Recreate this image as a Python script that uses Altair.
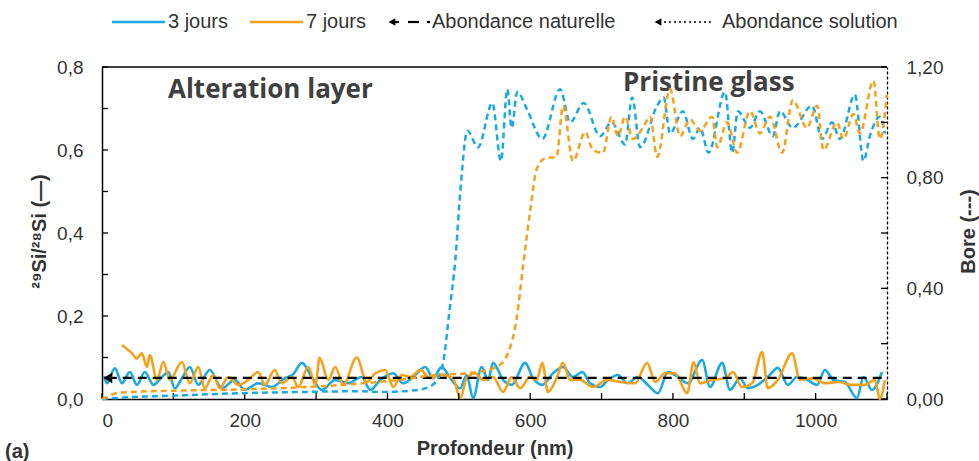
import altair as alt
import pandas as pd

# ---------------- data ----------------
# 29Si/28Si (left axis), 3 jours
si3_x = [3, 7, 18, 28, 39, 49, 60, 72, 84, 93,
         102, 112, 123, 135, 151, 168, 186, 200, 219, 238,
         256, 268, 280, 294, 308, 327, 345, 364, 376, 390,
         408, 422, 436, 453, 464, 476, 488, 502, 511, 520,
         532, 541, 548, 562, 574, 593, 604, 617, 632, 646,
         660, 673, 684, 698, 709, 723, 736, 751, 765, 779,
         793, 807, 821, 841, 852, 869, 880, 894, 905, 919,
         933, 947, 961, 974, 988, 1002, 1013, 1025, 1041, 1058,
         1067, 1079, 1093]
si3_y = [0.055, 0.038, 0.074, 0.038, 0.065, 0.034, 0.065, 0.034, 0.053, 0.065,
         0.026, 0.05, 0.077, 0.034, 0.07, 0.026, 0.046, 0.022, 0.038, 0.029,
         0.05, 0.06, 0.087, 0.053, 0.022, 0.046, 0.038, 0.053, 0.022, 0.046,
         0.062, 0.038, 0.053, 0.077, 0.05, 0.077, 0.05, 0.026, 0.058, 0.002,
         0.077, 0.046, 0.087, 0.046, 0.034, 0.087, 0.05, 0.034, 0.062, 0.077,
         0.053, 0.065, 0.038, 0.029, 0.046, 0.058, 0.038, 0.053, 0.034, 0.014,
         0.065, 0.053, 0.038, 0.094, 0.029, 0.087, 0.022, 0.05, 0.026, 0.034,
         0.053, 0.075, 0.034, 0.053, 0.046, 0.034, 0.07, 0.046, 0.041, 0.002,
         0.053, 0.022, 0.065]

# 29Si/28Si (left axis), 7 jours
si7_x = [28, 42, 49, 56, 63, 67, 77, 86, 95, 112,
         123, 135, 144, 156, 165, 177, 191, 205, 219, 228,
         242, 252, 266, 275, 289, 299, 305, 317, 327, 338,
         357, 371, 383, 397, 408, 420, 432, 446, 460, 476,
         492, 502, 511, 523, 534, 548, 562, 574, 586, 600,
         609, 617, 625, 637, 646, 656, 670, 688, 708, 726,
         747, 764, 775, 789, 803, 820, 829, 838, 855, 873,
         884, 897, 911, 925, 933, 947, 967, 978, 995, 1013,
         1032, 1051, 1069, 1083, 1090, 1097]
si7_y = [0.13, 0.11, 0.098, 0.11, 0.077, 0.106, 0.046, 0.089, 0.046, 0.089,
         0.038, 0.077, 0.026, 0.058, 0.026, 0.053, 0.034, 0.046, 0.065, 0.034,
         0.07, 0.038, 0.053, 0.029, 0.077, 0.034, 0.099, 0.046, 0.077, 0.034,
         0.1, 0.041, 0.062, 0.07, 0.029, 0.058, 0.053, 0.07, 0.05, 0.058,
         0.05, 0.002, 0.05, 0.062, 0.046, 0.053, 0.017, 0.053, 0.026, 0.053,
         0.046, 0.087, 0.017, 0.05, 0.087, 0.046, 0.046, 0.029, 0.046, 0.041,
         0.038, 0.087, 0.041, 0.062, 0.062, 0.014, 0.089, 0.038, 0.046, 0.05,
         0.065, 0.029, 0.038, 0.113, 0.026, 0.046, 0.11, 0.046, 0.05, 0.038,
         0.041, 0.034, 0.034, 0.046, 0.0, 0.046]

# Bore (right axis), 3 jours
b3_x = [0, 50, 100, 180, 270, 365, 390, 432, 455, 470,
        478, 487, 495, 503, 512, 527, 547, 559, 568, 574,
        582, 595, 617, 642, 656, 675, 698, 714, 733, 743,
        754, 778, 787, 796, 814, 828, 838, 850, 873, 883,
        891, 908, 922, 940, 950, 968, 995, 1009, 1023, 1034,
        1055, 1067, 1076, 1090, 1097]
b3_y = [0.0, 0.008, 0.012, 0.02, 0.025, 0.028, 0.025, 0.03, 0.04, 0.07,
        0.13, 0.32, 0.5, 0.78, 0.97, 0.91, 1.07, 0.86, 1.12, 0.98,
        1.11, 1.05, 0.94, 1.12, 1.0, 1.07, 0.95, 1.0, 0.92, 1.09,
        0.91, 1.06, 1.09, 0.96, 1.04, 0.94, 0.98, 0.89, 1.11, 0.89,
        1.04, 0.98, 1.04, 0.95, 1.04, 0.98, 1.06, 0.94, 1.0, 0.94,
        1.10, 0.86, 0.95, 1.02, 0.96]

# Bore (right axis), 7 jours
b7_x = [0, 10, 18, 37, 100, 200, 300, 380, 420, 460,
        516, 553, 569, 581, 590, 600, 609, 621, 637, 646,
        660, 677, 688, 702, 714, 723, 733, 744, 758, 768,
        778, 796, 810, 824, 838, 855, 862, 876, 890, 908,
        922, 936, 953, 968, 988, 1002, 1011, 1030, 1039, 1053,
        1062, 1081, 1090, 1100]
b7_y = [0.0, 0.01, 0.02, 0.025, 0.03, 0.035, 0.045, 0.06, 0.07, 0.085,
        0.094, 0.116, 0.166, 0.29, 0.48, 0.68, 0.83, 0.87, 0.875, 1.06,
        0.86, 0.965, 0.9, 0.89, 1.02, 0.95, 1.02, 0.94, 0.98, 1.02,
        0.875, 1.12, 0.95, 1.01, 0.97, 1.02, 0.91, 1.0, 0.89, 1.04,
        0.96, 1.02, 0.89, 1.08, 0.98, 1.06, 0.9, 1.0, 0.94, 1.03,
        0.96, 1.15, 0.94, 1.10]

# Abondance naturelle (29Si/28Si)
nat_x = [8, 1100]
nat_y = [0.0508, 0.0508]

series = ["3 jours", "7 jours"]
x_labels = [0, 200, 400, 600, 800, 1000]
x_ticks = [0, 100, 200, 300, 400, 500, 600, 700, 800, 900, 1000, 1100]
l_labels = [0.0, 0.2, 0.4, 0.6, 0.8]
l_ticks = [0.0, 0.1, 0.2, 0.3, 0.4, 0.5, 0.6, 0.7, 0.8]
r_labels = [0.0, 0.4, 0.8, 1.2]
r_ticks = [0.0, 0.2, 0.4, 0.6, 0.8, 1.0, 1.2]

# ---------------- styling ----------------
BLUE = "#1BA9E1"
ORANGE = "#F6A01C"
GREY = "#333333"
FONT = "Liberation Sans"
LFONT = "Liberation Sans Narrow, Liberation Sans"
AFONT = "Open Sans"
W, H = 785, 332
TL = 19   # tick label size
TT = 20   # axis title size


def mk(xs, ys, s):
    return pd.DataFrame({"x": xs, "y": ys, "serie": s})


si = pd.concat([mk(si3_x, si3_y, series[0]), mk(si7_x, si7_y, series[1])])
bo = pd.concat([mk(b3_x, b3_y, series[0]), mk(b7_x, b7_y, series[1])])
nat = pd.DataFrame({"x": nat_x, "y": nat_y})
one = pd.DataFrame({"a": [0]})

xscale = alt.Scale(domain=[0, 1100], nice=False, zero=False)
lscale = alt.Scale(domain=[0, 0.8], nice=False)
rscale = alt.Scale(domain=[0, 1.2], nice=False)
cscale = alt.Scale(domain=series, range=[BLUE, ORANGE])

x_axis = alt.Axis(values=x_labels, format="d", ticks=False, grid=False,
                  domainColor="black", domainWidth=1.5,
                  labelFont=FONT, labelFontSize=TL, labelColor=GREY, labelPadding=12,
                  title="Profondeur (nm)", titleFont=FONT, titleFontSize=TT,
                  titleFontWeight="bold", titleColor=GREY, titleY=49,
                  titleBaseline="middle")
l_axis = alt.Axis(values=l_labels, ticks=False, grid=False,
                  labelExpr="replace(format(datum.value, '.1f'), '.', ',')",
                  domainColor="black", domainWidth=1.5,
                  labelFont=FONT, labelFontSize=TL, labelColor=GREY, labelPadding=19,
                  title="²⁹Si/²⁸Si (—)", titleFont=FONT, titleFontSize=TT,
                  titleFontWeight="bold", titleColor=GREY, titleAngle=270,
                  titleX=-63, titleY=164, titleBaseline="middle", titleAlign="center")
r_axis = alt.Axis(values=r_labels, ticks=False, grid=False, orient="right",
                  labelExpr="replace(format(datum.value, '.2f'), '.', ',')",
                  domainColor="black", domainWidth=1.3, domainDash=[3, 2],
                  labelFont=FONT, labelFontSize=TL, labelColor=GREY, labelPadding=19,
                  title="Bore (---)", titleFont=FONT, titleFontSize=TT,
                  titleFontWeight="bold", titleColor=GREY, titleAngle=270,
                  titleX=81, titleY=164, titleBaseline="middle", titleAlign="center")

# ---------------- left (29Si/28Si) group ----------------
si_lines = alt.Chart(si).mark_line(strokeWidth=2.6, interpolate="monotone").encode(
    x=alt.X("x:Q", scale=xscale, axis=x_axis),
    y=alt.Y("y:Q", scale=lscale, axis=l_axis),
    color=alt.Color("serie:N", scale=cscale, legend=None),
)

nat_line = alt.Chart(nat).mark_line(color="black", strokeWidth=2.4, strokeDash=[9, 6]).encode(
    x=alt.X("x:Q", scale=xscale, axis=x_axis),
    y=alt.Y("y:Q", scale=lscale, axis=l_axis),
)
nat_arrow = alt.Chart(nat.head(1)).mark_point(shape="triangle-left", filled=True, color="black",
                                              size=110, opacity=1).encode(
    x=alt.X("x:Q", scale=xscale, axis=x_axis),
    y=alt.Y("y:Q", scale=lscale, axis=l_axis),
)

xt = alt.Chart(pd.DataFrame({"x": x_ticks})).mark_rule(color="black", strokeWidth=1.3).encode(
    x=alt.X("x:Q", scale=xscale, axis=x_axis),
    y=alt.value(H - 6), y2=alt.value(H),
)
lt = alt.Chart(pd.DataFrame({"y": l_ticks})).mark_rule(color="black", strokeWidth=1.3).encode(
    y=alt.Y("y:Q", scale=lscale, axis=l_axis),
    x=alt.value(0), x2=alt.value(6),
)

top_line = alt.Chart(one).mark_rule(color="black", strokeWidth=1.6).encode(
    x=alt.value(0), x2=alt.value(W), y=alt.value(0))

alt_text = alt.Chart(one).mark_text(text="Alteration layer", font=AFONT, fontSize=26,
                                    fontWeight="bold", color="#404040", align="left",
                                    baseline="middle").encode(x=alt.value(66), y=alt.value(23))
pri_text = alt.Chart(one).mark_text(text="Pristine glass", font=AFONT, fontSize=26,
                                    fontWeight="bold", color="#404040", align="left",
                                    baseline="middle").encode(x=alt.value(521), y=alt.value(16))
a_text = alt.Chart(one).mark_text(text="(a)", font=FONT, fontSize=20, fontWeight="bold",
                                  color=GREY, align="left", baseline="middle").encode(
    x=alt.value(-97), y=alt.value(385))

# ---------------- legend (drawn) ----------------
LY = -45
LS = 20
leg = []
leg.append(alt.Chart(one).mark_rule(color=BLUE, strokeWidth=2.6).encode(
    x=alt.value(10), x2=alt.value(63), y=alt.value(LY)))
leg.append(alt.Chart(one).mark_text(text="3 jours", font=LFONT, fontSize=LS, color=GREY,
                                    align="left", baseline="middle").encode(
    x=alt.value(66), y=alt.value(LY)))
leg.append(alt.Chart(one).mark_rule(color=ORANGE, strokeWidth=2.6).encode(
    x=alt.value(148), x2=alt.value(201), y=alt.value(LY)))
leg.append(alt.Chart(one).mark_text(text="7 jours", font=LFONT, fontSize=LS, color=GREY,
                                    align="left", baseline="middle").encode(
    x=alt.value(204), y=alt.value(LY)))
leg.append(alt.Chart(one).mark_point(shape="triangle-left", filled=True, color="black", size=60,
                                     opacity=1).encode(x=alt.value(290), y=alt.value(LY)))
leg.append(alt.Chart(one).mark_rule(color="black", strokeWidth=2.2).encode(
    x=alt.value(289), x2=alt.value(297), y=alt.value(LY)))
leg.append(alt.Chart(one).mark_rule(color="black", strokeWidth=2.2).encode(
    x=alt.value(306), x2=alt.value(317), y=alt.value(LY)))
leg.append(alt.Chart(one).mark_rule(color="black", strokeWidth=2.2).encode(
    x=alt.value(325), x2=alt.value(328), y=alt.value(LY)))
leg.append(alt.Chart(one).mark_text(text="Abondance naturelle", font=LFONT, fontSize=LS, color=GREY,
                                    align="left", baseline="middle").encode(
    x=alt.value(330), y=alt.value(LY)))
leg.append(alt.Chart(one).mark_point(shape="triangle-left", filled=True, color="black", size=60,
                                     opacity=1).encode(x=alt.value(556), y=alt.value(LY)))
leg.append(alt.Chart(one).mark_rule(color="black", strokeWidth=1.6, strokeDash=[2, 3]).encode(
    x=alt.value(562), x2=alt.value(610), y=alt.value(LY)))
leg.append(alt.Chart(one).mark_text(text="Abondance solution", font=LFONT, fontSize=LS, color=GREY,
                                    align="left", baseline="middle").encode(
    x=alt.value(620), y=alt.value(LY)))

left = alt.layer(si_lines, nat_line, nat_arrow, xt, lt, top_line, alt_text, pri_text, a_text, *leg)

# ---------------- right (Bore) group ----------------
bo_lines = alt.Chart(bo).mark_line(strokeWidth=2.5, strokeDash=[6, 4], interpolate="monotone").encode(
    x=alt.X("x:Q", scale=xscale, axis=x_axis),
    y=alt.Y("y:Q", scale=rscale, axis=r_axis),
    color=alt.Color("serie:N", scale=cscale, legend=None),
)
rt = alt.Chart(pd.DataFrame({"y": r_ticks})).mark_rule(color="black", strokeWidth=1.3).encode(
    y=alt.Y("y:Q", scale=rscale, axis=r_axis),
    x=alt.value(W - 6), x2=alt.value(W),
)
right = alt.layer(bo_lines, rt)

chart = alt.layer(left, right).resolve_scale(y="independent").properties(
    width=W, height=H,
    autosize=alt.AutoSizeParams(type="none"),
    padding={"left": 102, "top": 67, "right": 92, "bottom": 62},
    background="white",
).configure_view(stroke=None)

chart.save("out.html", embed_options={"renderer": "svg", "actions": False})
